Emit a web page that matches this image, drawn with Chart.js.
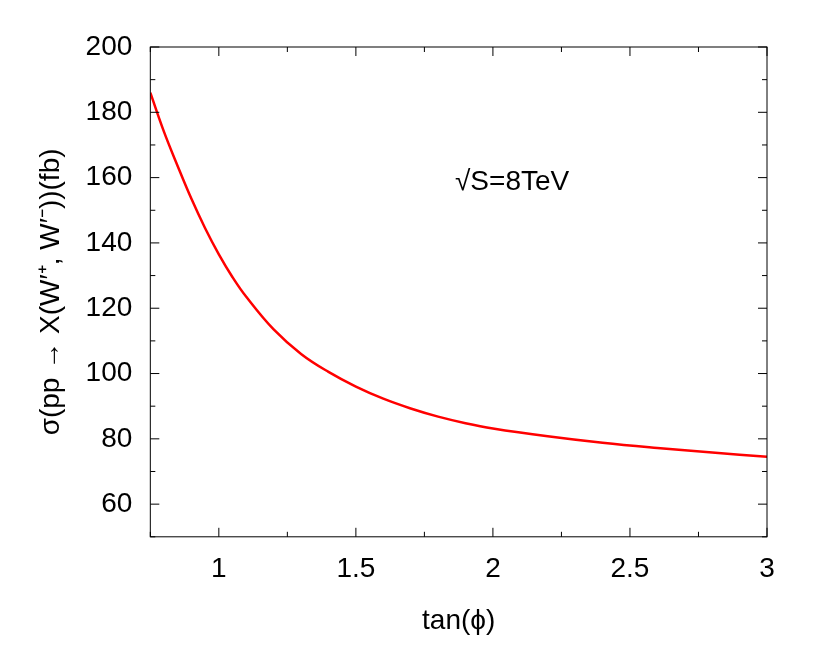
<!DOCTYPE html>
<html><head><meta charset="utf-8">
<script src="https://cdn.jsdelivr.net/npm/chart.js@4"></script>
<style>html,body{margin:0;padding:0;background:#fff}#w{width:830px;height:664px}</style>
</head><body><div id="w"><canvas id="c"></canvas></div>
<script>
const xValues=[0.75,0.8,0.85,0.9,0.95,1.0,1.05,1.1,1.2,1.3,1.4,1.5,1.6,1.7,1.8,1.9,2.0,2.2,2.4,2.6,2.8,3.0];
const sigma=[186,174,163.5,153.5,144.5,136.5,129.5,123.5,113.5,106,100.5,96,92.3,89.3,86.8,84.8,83.2,80.8,78.8,77.2,75.8,74.5];
const xTicks=[1,1.5,2,2.5,3];
const yTicks=[60,80,100,120,140,160,180,200];
const F='"Liberation Sans", Arial, sans-serif';
const inner={id:'inner',afterDraw(ch){const c=ch.ctx,a=ch.chartArea,xs=ch.scales.x,ys=ch.scales.y;
c.save();c.strokeStyle='#000';c.lineWidth=1;c.strokeRect(a.left,a.top,a.right-a.left,a.bottom-a.top);
c.beginPath();
for(let v=0.75;v<=3.001;v+=0.25){const p=xs.getPixelForValue(v);const L=(Math.abs(v*2-Math.round(v*2))<1e-6)?9:5;c.moveTo(p,a.bottom);c.lineTo(p,a.bottom-L);c.moveTo(p,a.top);c.lineTo(p,a.top+L);}
for(let v=50;v<=200;v+=10){const p=ys.getPixelForValue(v);const L=(v%20==0)?9:5;c.moveTo(a.left,p);c.lineTo(a.left+L,p);c.moveTo(a.right,p);c.lineTo(a.right-L,p);}
c.stroke();
c.fillStyle='#000';c.font='28px '+F;c.textAlign='center';c.textBaseline='middle';
c.fillText('\u221AS=8TeV',xs.getPixelForValue(2.07),ys.getPixelForValue(158.5));
c.restore();}};
new Chart(document.getElementById('c'),{type:'line',
data:{datasets:[{data:xValues.map((x,i)=>({x,y:sigma[i]})),borderColor:'#ff0000',borderWidth:2.5,pointRadius:0,tension:0.4,fill:false}]},
options:{responsive:true,maintainAspectRatio:false,animation:false,devicePixelRatio:1,
layout:{padding:{top:47,right:63,left:30,bottom:22}},
plugins:{legend:{display:false},tooltip:{enabled:false}},
scales:{
x:{type:'linear',min:0.75,max:3,afterBuildTicks(s){s.ticks=xTicks.map(v=>({value:v}));},
grid:{display:false},border:{display:false},
ticks:{color:'#000',font:{family:F,size:28},padding:8,maxRotation:0,callback:v=>String(v)},
title:{display:true,text:'tan(\u03D5)',color:'#000',font:{family:F,size:28},padding:{top:10}}},
y:{type:'linear',min:50,max:200,afterBuildTicks(s){s.ticks=yTicks.map(v=>({value:v}));},
grid:{display:false},border:{display:false},
ticks:{color:'#000',font:{family:F,size:28},padding:10},
title:{display:true,text:'\u03C3(pp \u2192 X(W\u2032\u207A, W\u2032\u207B))(fb)',color:'#000',font:{family:F,size:28},padding:{bottom:8}}}}},
plugins:[inner]});
</script></body></html>
